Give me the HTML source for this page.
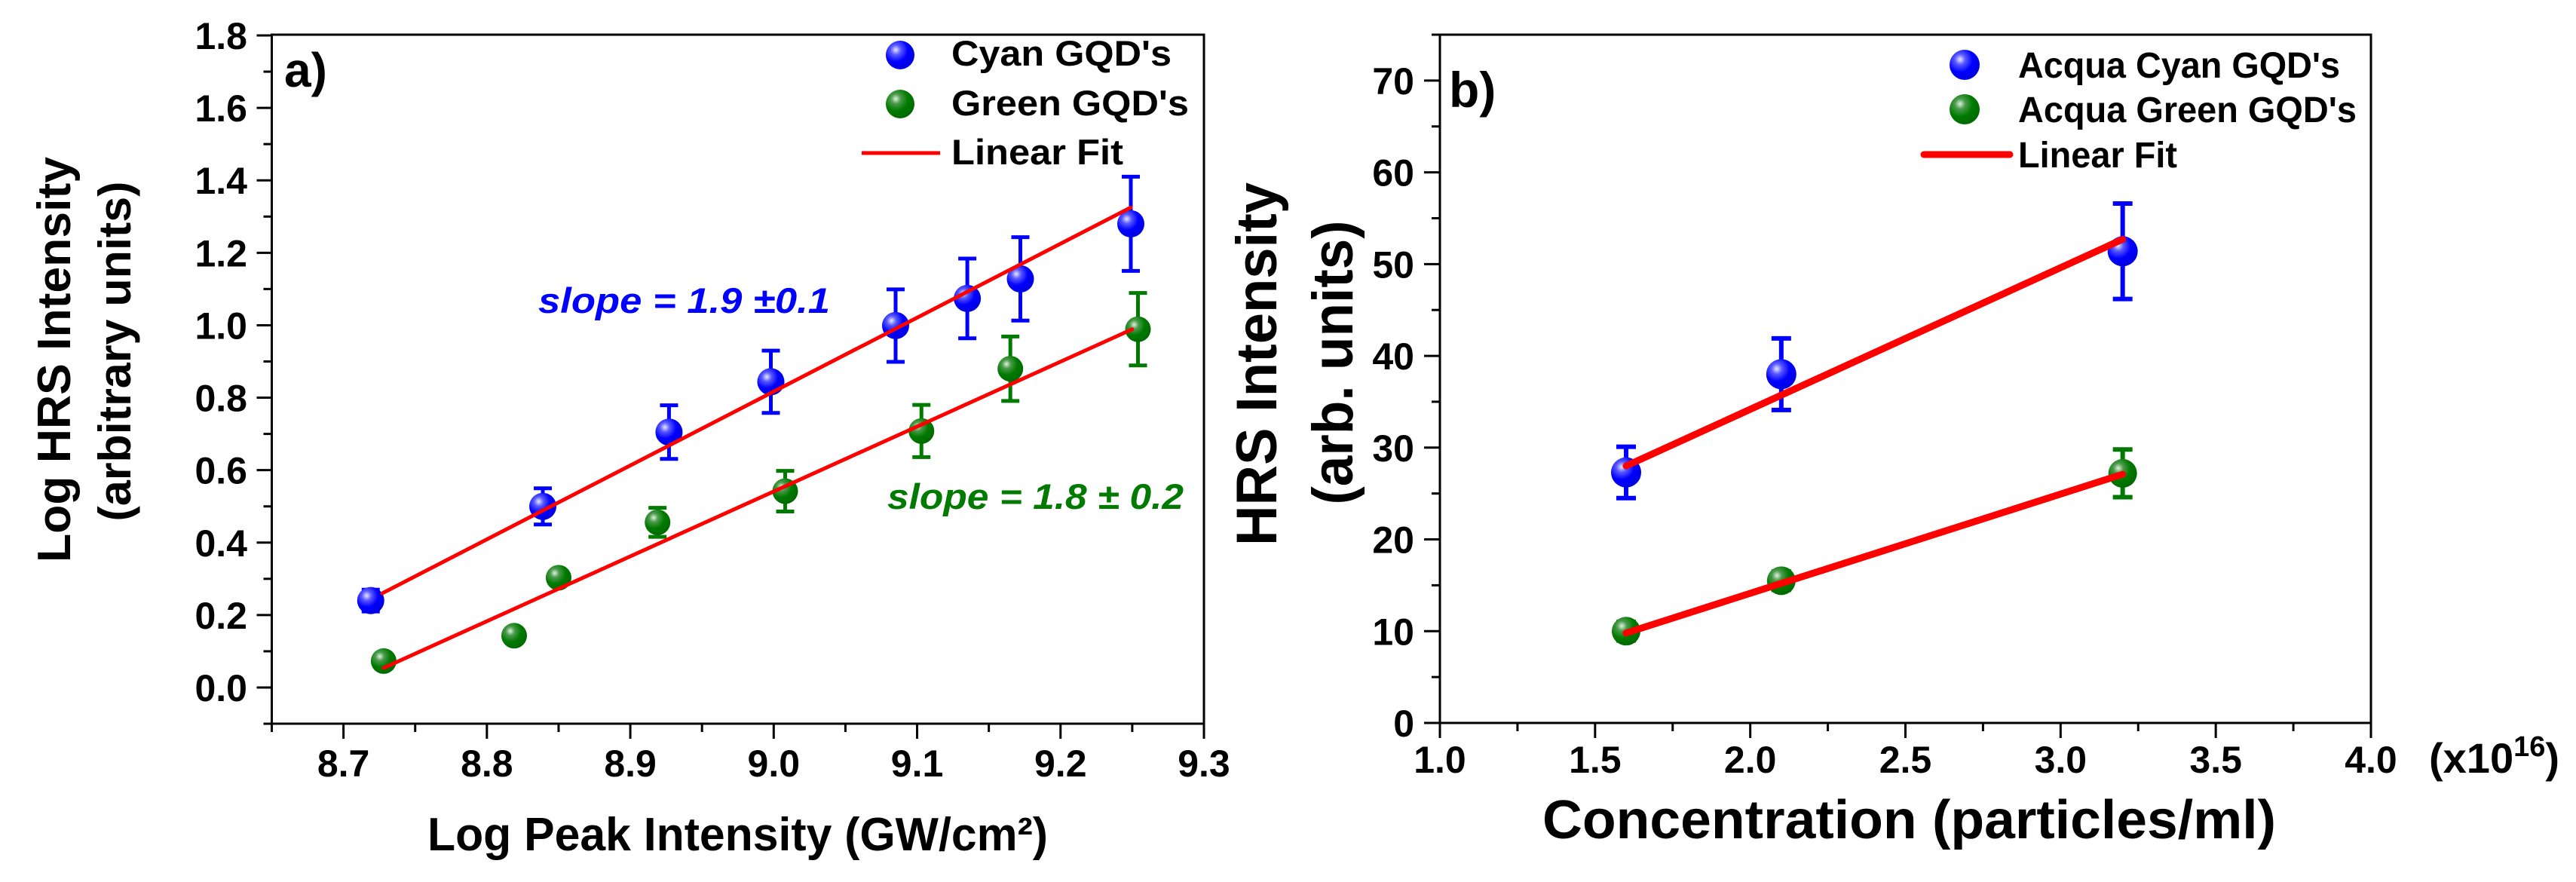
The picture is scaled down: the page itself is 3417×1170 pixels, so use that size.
<!DOCTYPE html>
<html><head><meta charset="utf-8"><title>HRS charts</title>
<style>
html,body{margin:0;padding:0;background:#fff;}
svg{display:block;}
text{font-family:"Liberation Sans",Arial,sans-serif;}
</style></head>
<body>
<svg id="fig" width="3417" height="1170" viewBox="0 0 3417 1170" xmlns="http://www.w3.org/2000/svg">
<defs>
<radialGradient id="gBlue" cx="0.35" cy="0.32" r="0.7">
<stop offset="0" stop-color="#e8e8ff"/><stop offset="0.25" stop-color="#5a5aff"/><stop offset="0.6" stop-color="#0000ff"/><stop offset="1" stop-color="#0000e0"/>
</radialGradient>
<radialGradient id="gGreen" cx="0.35" cy="0.32" r="0.7">
<stop offset="0" stop-color="#e0f0e0"/><stop offset="0.25" stop-color="#4a9a4a"/><stop offset="0.6" stop-color="#007a00"/><stop offset="1" stop-color="#006a00"/>
</radialGradient>
</defs>
<g id="panelA"></g>
<g id="panelB"></g>
</svg>
<script>
// ---------- Panel a data ----------
const aCyanX = [8.719, 8.839, 8.927, 8.998, 9.085, 9.135, 9.172, 9.249];
const aCyanY = [0.24, 0.50, 0.705, 0.844, 0.999, 1.074, 1.128, 1.280];
const aCyanErr = [0.03, 0.05, 0.074, 0.086, 0.10, 0.11, 0.115, 0.13];
const aGreenX = [8.728, 8.819, 8.850, 8.919, 9.008, 9.103, 9.165, 9.254];
const aGreenY = [0.073, 0.143, 0.303, 0.456, 0.542, 0.708, 0.880, 0.989];
const aGreenErr = [0.02, 0.015, 0.015, 0.04, 0.056, 0.072, 0.089, 0.10];
const aFitCyanX = [8.727, 9.249];
const aFitCyanY = [0.26, 1.325];
const aFitGreenX = [8.728, 9.250];
const aFitGreenY = [0.054, 0.989];
const aXTicks = ["8.7","8.8","8.9","9.0","9.1","9.2","9.3"];
const aYTicks = ["0.0","0.2","0.4","0.6","0.8","1.0","1.2","1.4","1.6","1.8"];
// ---------- Panel b data ----------
const bCyanX = [1.6, 2.1, 3.2];
const bCyanY = [27.3, 38.0, 51.4];
const bCyanErr = [2.8, 3.9, 5.2];
const bGreenX = [1.6, 2.1, 3.2];
const bGreenY = [10.0, 15.5, 27.2];
const bGreenErr = [1.0, 1.0, 2.6];
const bFitCyanX = [1.6, 3.2];
const bFitCyanY = [28.0, 52.7];
const bFitGreenX = [1.6, 3.2];
const bFitGreenY = [9.8, 27.1];
const bXTicks = ["1.0","1.5","2.0","2.5","3.0","3.5","4.0"];
const bYTicks = ["0","10","20","30","40","50","60","70"];

const NS = "http://www.w3.org/2000/svg";
function mk(parent, tag, attrs, txt){
  const e = document.createElementNS(NS, tag);
  for (const k in attrs) e.setAttribute(k, attrs[k]);
  if (txt !== undefined) e.textContent = txt;
  parent.appendChild(e);
  return e;
}

// ---------- Panel a ----------
const A = document.getElementById('panelA');
const aL = 360.5, aR = 1597, aT = 46, aB = 960;
const ax = v => aL + (v - 8.65) / 0.65 * (aR - aL);
const ay = v => 912 - v / 1.8 * (912 - 47);

let fr = mk(A, 'rect', {x:aL, y:aT, width:aR-aL, height:aB-aT, fill:'none', stroke:'#000', 'stroke-width':3});



for (let i = 0; i <= 13; i++) {
  const v = 8.65 + i * 0.05;
  const major = (i % 2 === 1);
  const t = mk(A, 'line', {x1:ax(v), x2:ax(v), y1:aB, y2:aB + (major ? 20 : 11), stroke:'#000', 'stroke-width':3});
  
  
}
aXTicks.forEach(s => {
  const t = mk(A, 'text', {x:ax(parseFloat(s)), y:1030, 'font-size':50, 'font-weight':'bold', 'text-anchor':'middle'}, s);
  
  
});
for (let i = -1; i <= 18; i++) {
  const v = i * 0.1;
  const major = (i % 2 === 0);
  const t = mk(A, 'line', {x1:aL, x2:aL - (major ? 20 : 11), y1:ay(v), y2:ay(v), stroke:'#000', 'stroke-width':3});
  
  
}
aYTicks.forEach(s => {
  const t = mk(A, 'text', {x:328, y:ay(parseFloat(s)) + 18, 'font-size':50, 'font-weight':'bold', 'text-anchor':'end'}, s);
  
  
});

let tt = mk(A, 'text', {x:567, y:1128, 'font-size':62, 'font-weight':'bold', textLength:823, lengthAdjust:'spacingAndGlyphs'}, 'Log Peak Intensity (GW/cm²)');


tt = mk(A, 'text', {x:0, y:0, 'font-size':62, 'font-weight':'bold', 'text-anchor':'middle', textLength:538, lengthAdjust:'spacingAndGlyphs', transform:'translate(93,477) rotate(-90)'}, 'Log HRS Intensity');


tt = mk(A, 'text', {x:0, y:0, 'font-size':60, 'font-weight':'bold', 'text-anchor':'middle', textLength:451, lengthAdjust:'spacingAndGlyphs', transform:'translate(173,466) rotate(-90)'}, '(arbitrary units)');


tt = mk(A, 'text', {x:377, y:115, 'font-size':64, 'font-weight':'bold'}, 'a)');



function fitLine(G, X, Y, fx, fy, w, name){
  const l = mk(G, 'line', {x1:fx(X[0]), y1:fy(Y[0]), x2:fx(X[1]), y2:fy(Y[1]), stroke:'#ff0000', 'stroke-width':w, 'stroke-linecap':'round'});
  
  
}
function series(G, X, Y, E, fx, fy, col, grad, r, sw, cw, name){
  for (let i = 0; i < X.length; i++) {
    const cx = fx(X[i]);
    const y1 = fy(Y[i] + E[i]), y2 = fy(Y[i] - E[i]);
    const eb = mk(G, 'path', {d:`M${cx},${y1}V${y2}M${cx-cw/2},${y1}H${cx+cw/2}M${cx-cw/2},${y2}H${cx+cw/2}`, stroke:col, 'stroke-width':sw, fill:'none'});
    
    
    const c = mk(G, 'circle', {cx:cx, cy:fy(Y[i]), r:r, fill:'url(#' + grad + ')'});
    
    
  }
}
series(A, aCyanX, aCyanY, aCyanErr, ax, ay, '#0000ff', 'gBlue', 18, 5, 24, 'cyan-gqd');
series(A, aGreenX, aGreenY, aGreenErr, ax, ay, '#007a00', 'gGreen', 17, 5, 24, 'green-gqd');
fitLine(A, aFitCyanX, aFitCyanY, ax, ay, 5, 'cyan-linear-fit');
fitLine(A, aFitGreenX, aFitGreenY, ax, ay, 5, 'green-linear-fit');

tt = mk(A, 'text', {x:714, y:415, 'font-size':47, 'font-weight':'bold', 'font-style':'italic', fill:'#0000ff', textLength:387, lengthAdjust:'spacingAndGlyphs'}, 'slope = 1.9 ±0.1');


tt = mk(A, 'text', {x:1177, y:675, 'font-size':47, 'font-weight':'bold', 'font-style':'italic', fill:'#007a00', textLength:393, lengthAdjust:'spacingAndGlyphs'}, 'slope = 1.8 ± 0.2');



// legend a
let lg = mk(A, 'circle', {cx:1194, cy:73, r:19, fill:'url(#gBlue)'});


lg = mk(A, 'circle', {cx:1194, cy:138, r:19, fill:'url(#gGreen)'});


lg = mk(A, 'line', {x1:1143, x2:1247, y1:203, y2:203, stroke:'#ff0000', 'stroke-width':5});


[["Cyan GQD's",87,292],["Green GQD's",153,315],["Linear Fit",218,228]].forEach(d => {
  const t = mk(A, 'text', {x:1262, y:d[1], 'font-size':47, 'font-weight':'bold', textLength:d[2], lengthAdjust:'spacingAndGlyphs'}, d[0]);
  
  
});

// ---------- Panel b ----------
const B = document.getElementById('panelB');
const bL = 1910, bR = 3145, bT = 46, bB = 959;
const bx = v => bL + (v - 1.0) / 3.0 * (bR - bL);
const by = v => bB - v / 75 * (bB - bT);

fr = mk(B, 'rect', {x:bL, y:bT, width:bR-bL, height:bB-bT, fill:'none', stroke:'#000', 'stroke-width':3});


for (let i = 0; i <= 12; i++) {
  const v = 1.0 + i * 0.25;
  const major = (i % 2 === 0);
  const t = mk(B, 'line', {x1:bx(v), x2:bx(v), y1:bB, y2:bB + (major ? 20 : 11), stroke:'#000', 'stroke-width':3});
  
  
}
bXTicks.forEach(s => {
  const t = mk(B, 'text', {x:bx(parseFloat(s)), y:1025, 'font-size':50, 'font-weight':'bold', 'text-anchor':'middle'}, s);
  
  
});
for (let i = 0; i <= 15; i++) {
  const v = i * 5;
  const major = (i % 2 === 0);
  const t = mk(B, 'line', {x1:bL, x2:bL - (major ? 21 : 11), y1:by(v), y2:by(v), stroke:'#000', 'stroke-width':3});
  
  
}
bYTicks.forEach(s => {
  const t = mk(B, 'text', {x:1876, y:by(parseFloat(s)) + 18, 'font-size':50, 'font-weight':'bold', 'text-anchor':'end'}, s);
  
  
});
tt = mk(B, 'text', {x:2046, y:1112, 'font-size':72, 'font-weight':'bold', textLength:973, lengthAdjust:'spacingAndGlyphs'}, 'Concentration (particles/ml)');


tt = mk(B, 'text', {x:3222, y:1025, 'font-size':56, 'font-weight':'bold'});


mk(tt, 'tspan', {}, '(x10');
mk(tt, 'tspan', {dy:-22, 'font-size':38}, '16');
mk(tt, 'tspan', {dy:22}, ')');
tt = mk(B, 'text', {x:0, y:0, 'font-size':76, 'font-weight':'bold', 'text-anchor':'middle', textLength:482, lengthAdjust:'spacingAndGlyphs', transform:'translate(1693,483) rotate(-90)'}, 'HRS Intensity');


tt = mk(B, 'text', {x:0, y:0, 'font-size':76, 'font-weight':'bold', 'text-anchor':'middle', textLength:377, lengthAdjust:'spacingAndGlyphs', transform:'translate(1794,481) rotate(-90)'}, '(arb. units)');


tt = mk(B, 'text', {x:1922, y:142, 'font-size':66, 'font-weight':'bold'}, 'b)');



fitLine(B, bFitCyanX, bFitCyanY, bx, by, 9, 'acqua-cyan-linear-fit');
fitLine(B, bFitGreenX, bFitGreenY, bx, by, 9, 'acqua-green-linear-fit');
series(B, bCyanX, bCyanY, bCyanErr, bx, by, '#0000ff', 'gBlue', 20, 6, 26, 'acqua-cyan-gqd');
series(B, bGreenX, bGreenY, bGreenErr, bx, by, '#007a00', 'gGreen', 19, 6, 26, 'acqua-green-gqd');
fitLine(B, bFitCyanX, bFitCyanY, bx, by, 9, 'acqua-cyan-linear-fit-overlay');
fitLine(B, bFitGreenX, bFitGreenY, bx, by, 9, 'acqua-green-linear-fit-overlay');

lg = mk(B, 'circle', {cx:2606, cy:86, r:20, fill:'url(#gBlue)'});


lg = mk(B, 'circle', {cx:2606, cy:145, r:20, fill:'url(#gGreen)'});


lg = mk(B, 'line', {x1:2552, x2:2666, y1:205, y2:205, stroke:'#ff0000', 'stroke-width':9, 'stroke-linecap':'round'});


[["Acqua Cyan GQD's",103,427],["Acqua Green GQD's",162,449],["Linear Fit",222,211]].forEach(d => {
  const t = mk(B, 'text', {x:2677, y:d[1], 'font-size':48, 'font-weight':'bold', textLength:d[2], lengthAdjust:'spacingAndGlyphs'}, d[0]);
  
  
});
</script>
</body></html>
